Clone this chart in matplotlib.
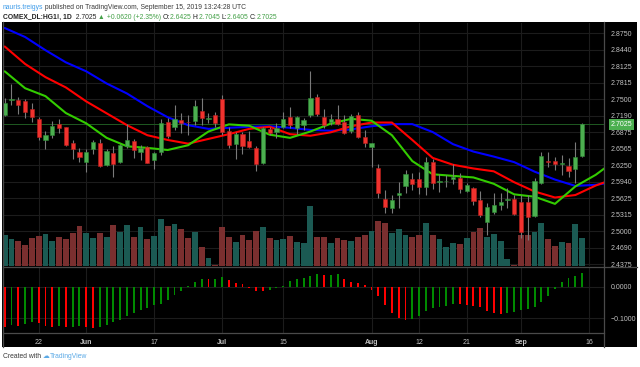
import matplotlib
matplotlib.use('Agg')
import matplotlib.pyplot as plt
import numpy as np
from matplotlib.lines import Line2D
from matplotlib.patches import Rectangle

plt.rcParams['font.family'] = ['Liberation Sans', 'DejaVu Sans']

# ---------------- data ----------------
date_tick_idx = [5, 12, 22, 32, 41, 54, 61, 68, 76, 86]
date_labels = ['22', 'Jun', '17', 'Jul', '15', 'Aug', '12', '21', 'Sep', '16']
month_labels = {'Jun', 'Jul', 'Aug', 'Sep'}

price_ticks = [2.8750, 2.8440, 2.8125, 2.7815, 2.7500, 2.7190, 2.6875, 2.6565,
               2.6250, 2.5940, 2.5625, 2.5315, 2.5000, 2.4690, 2.4375]
osc_ticks = [0.0, -0.1]

opens = [2.7196, 2.7491, 2.7486, 2.7461, 2.7310, 2.7120, 2.6729, 2.6824, 2.7026, 2.6969,
         2.6666, 2.6495, 2.6306, 2.6565, 2.6678, 2.6262, 2.6476, 2.6306, 2.6622, 2.6704,
         2.6508, 2.6590, 2.6350, 2.6508, 2.7070, 2.6975, 2.7108, 2.7076, 2.7095, 2.7284,
         2.7127, 2.7196, 2.7505, 2.6893, 2.6647, 2.6843, 2.6710, 2.6584, 2.6287, 2.6931,
         2.6887, 2.6981, 2.7158, 2.6950, 2.7013, 2.7202, 2.7537, 2.7158, 2.7076, 2.7120,
         2.7070, 2.6906, 2.7196, 2.6780, 2.6603, 2.6205, 2.5611, 2.5447, 2.5681, 2.5858,
         2.5984, 2.5990, 2.5832, 2.6306, 2.5927, 2.5946, 2.5984, 2.6003, 2.5770, 2.5820,
         2.5593, 2.5169, 2.5371, 2.5504, 2.5586, 2.5605, 2.5561, 2.5561, 2.5290, 2.5908,
         2.6331, 2.6325, 2.6274, 2.6236, 2.6186, 2.6425]
highs = [2.7518, 2.7790, 2.7537, 2.7499, 2.7436, 2.7170, 2.6906, 2.7095, 2.7120, 2.6981,
         2.6729, 2.6571, 2.6552, 2.6729, 2.6741, 2.6552, 2.6615, 2.6653, 2.7026, 2.6741,
         2.6628, 2.6615, 2.6508, 2.7120, 2.7139, 2.7392, 2.7247, 2.7202, 2.7486, 2.7518,
         2.7234, 2.7265, 2.7581, 2.6969, 2.6887, 2.6887, 2.6900, 2.6615, 2.6981, 2.6981,
         2.7045, 2.7266, 2.7360, 2.7183, 2.7139, 2.8036, 2.7600, 2.7310, 2.7215, 2.7392,
         2.7202, 2.7221, 2.7265, 2.6918, 2.6678, 2.6274, 2.5782, 2.5687, 2.5940, 2.6161,
         2.6110, 2.6129, 2.6413, 2.6363, 2.6085, 2.6066, 2.6274, 2.6098, 2.5921, 2.5845,
         2.5763, 2.5530, 2.5719, 2.5719, 2.5826, 2.5687, 2.5687, 2.5687, 2.6003, 2.6508,
         2.6508, 2.6413, 2.6451, 2.6394, 2.6697, 2.7045]
lows = [2.7190, 2.7392, 2.7221, 2.7139, 2.7076, 2.6729, 2.6558, 2.6760, 2.6868, 2.6615,
        2.6375, 2.6318, 2.6116, 2.6457, 2.6211, 2.6236, 2.6022, 2.6287, 2.6571, 2.6382,
        2.6350, 2.6287, 2.6173, 2.6445, 2.6760, 2.6918, 2.6868, 2.6824, 2.7013, 2.7013,
        2.7045, 2.6981, 2.6824, 2.6571, 2.6375, 2.6457, 2.6571, 2.6142, 2.6274, 2.6824,
        2.6760, 2.6950, 2.6950, 2.6843, 2.6918, 2.7170, 2.7183, 2.6950, 2.7013, 2.7013,
        2.6843, 2.6855, 2.6760, 2.6590, 2.6211, 2.5624, 2.5340, 2.5340, 2.5447, 2.5731,
        2.5782, 2.5700, 2.5687, 2.5795, 2.5750, 2.5845, 2.5896, 2.5719, 2.5750, 2.5492,
        2.5277, 2.4930, 2.5327, 2.5403, 2.5435, 2.5308, 2.4880, 2.4835, 2.5277, 2.5896,
        2.6211, 2.6161, 2.6066, 2.6034, 2.5921, 2.6405]
closes = [2.7436, 2.7500, 2.7392, 2.7259, 2.7158, 2.6792, 2.6824, 2.7000, 2.6962, 2.6641,
          2.6552, 2.6407, 2.6508, 2.6697, 2.6236, 2.6520, 2.6280, 2.6628, 2.6729, 2.6539,
          2.6577, 2.6300, 2.6476, 2.7045, 2.6805, 2.7133, 2.7045, 2.7063, 2.7373, 2.7139,
          2.7139, 2.7057, 2.6887, 2.6634, 2.6843, 2.6615, 2.6590, 2.6268, 2.6950, 2.6868,
          2.6956, 2.7120, 2.7007, 2.7164, 2.7108, 2.7531, 2.7215, 2.7007, 2.7127, 2.7032,
          2.6855, 2.7183, 2.6792, 2.6666, 2.6666, 2.5719, 2.5454, 2.5593, 2.5731, 2.6085,
          2.5896, 2.5845, 2.6319, 2.5921, 2.5959, 2.5959, 2.6034, 2.5795, 2.5877, 2.5580,
          2.5302, 2.5454, 2.5492, 2.5555, 2.5611, 2.5327, 2.4993, 2.5277, 2.5959, 2.6432,
          2.6306, 2.6274, 2.6287, 2.6148, 2.6413, 2.7025]
volume_k = [31, 27, 25, 21, 28, 30, 32, 25, 29, 27,
            33, 40, 33, 28, 33, 29, 41, 34, 41, 29,
            39, 27, 30, 47, 40, 42, 37, 28, 34, 19,
            8, 1.5, 39, 29, 24, 31, 26, 35, 39, 28,
            26, 27, 30, 24, 23, 60, 29, 29, 23, 28,
            26, 25, 29, 31, 35, 45, 43, 33, 37, 31,
            29, 31, 43, 31, 27, 19, 23, 22, 28, 34,
            38, 29, 32, 25, 7, 1.5, 31, 31, 34, 43,
            27, 20, 24, 23, 42, 28]
awesome_osc = [-0.128, -0.122, -0.124, -0.117, -0.113, -0.115, -0.124, -0.128, -0.126, -0.128,
               -0.127, -0.126, -0.128, -0.130, -0.128, -0.120, -0.112, -0.104, -0.092, -0.083,
               -0.074, -0.067, -0.059, -0.053, -0.042, -0.025, -0.012, 0.003, 0.016, 0.025,
               0.024, 0.026, 0.031, 0.023, 0.014, 0.008, -0.002, -0.012, -0.013, -0.008,
               -0.002, 0.002, 0.019, 0.026, 0.028, 0.035, 0.040, 0.038, 0.039, 0.041,
               0.025, 0.016, 0.014, 0.006, -0.010, -0.029, -0.056, -0.083, -0.098, -0.106,
               -0.101, -0.092, -0.077, -0.067, -0.063, -0.061, -0.054, -0.055, -0.058, -0.060,
               -0.065, -0.077, -0.083, -0.085, -0.082, -0.080, -0.072, -0.070, -0.063, -0.049,
               -0.028, -0.005, 0.015, 0.030, 0.035, 0.044]

# Alligator lines (read every 3 bars, shifted lines run past the last bar)
ma_idx = [0, 3, 6, 9, 12, 15, 18, 21, 24, 27, 30, 33, 36, 39, 42, 45, 48, 51, 54, 57,
          60, 63, 66, 69, 72, 75, 78, 81, 84, 87, 89]
jaw_blue = [2.885, 2.868, 2.843, 2.820, 2.803, 2.780, 2.761, 2.737, 2.716, 2.701,
            2.694, 2.696, 2.698, 2.699, 2.696, 2.692, 2.6905, 2.693, 2.699, 2.703,
            2.703, 2.688, 2.665, 2.651, 2.6415, 2.631, 2.613, 2.598, 2.586, 2.588, 2.592]
teeth_red = [2.850, 2.817, 2.792, 2.7725, 2.746, 2.7235, 2.701, 2.682, 2.673, 2.666,
             2.675, 2.684, 2.694, 2.698, 2.684, 2.681, 2.6875, 2.699, 2.706, 2.706,
             2.673, 2.639, 2.626, 2.619, 2.6136, 2.593, 2.5754, 2.564, 2.5687, 2.5867, 2.596]
lips_green = [2.803, 2.771, 2.756, 2.724, 2.7045, 2.677, 2.661, 2.658, 2.654, 2.663,
              2.689, 2.7025, 2.700, 2.683, 2.677, 2.689, 2.704, 2.713, 2.7095, 2.682,
              2.633, 2.608, 2.605, 2.602, 2.590, 2.570, 2.5655, 2.552, 2.585, 2.607, 2.626]

# ---------------- layout helpers ----------------
W, H = 640, 367
def fbox(x0, y0, x1, y1):
    return [x0 / W, 1 - y1 / H, (x1 - x0) / W, (y1 - y0) / H]

fig = plt.figure(figsize=(6.4, 3.67), dpi=100, facecolor='white')
fig.patches.append(Rectangle((2 / W, 1 - 347 / H), 635 / W, 325 / H,
                             transform=fig.transFigure, facecolor='black',
                             edgecolor='none', zorder=0))

n = len(closes)
x = np.arange(n)
XLIM = (-0.25, 88.22)
PLIM = (2.4343, 2.8945)
grid_c = '#1c1c1c'
lab_c = '#c2c2c2'
FS = 5

# background (grid) axes for price pane
ax_bg = fig.add_axes(fbox(3, 23, 604, 266), zorder=1)
ax_bg.set_facecolor('black')
ax_bg.set_xlim(*XLIM); ax_bg.set_ylim(*PLIM)
for p in price_ticks:
    ax_bg.axhline(p, color=grid_c, lw=0.8, zorder=0)
for d in date_tick_idx:
    ax_bg.axvline(d, color=grid_c, lw=0.8, zorder=0)
ax_bg.set_xticks([]); ax_bg.set_yticks([])
for s in ax_bg.spines.values():
    s.set_visible(False)

# volume axes
ax_v = fig.add_axes(fbox(3, 23, 604, 266), zorder=2)
ax_v.patch.set_alpha(0)
ax_v.set_xlim(*XLIM); ax_v.set_ylim(0, 243)
up = np.array(closes) >= np.array(opens)
ax_v.bar(x, volume_k, width=0.86, color=np.where(up, '#1b5a53', '#7a2f2f'), linewidth=0)
ax_v.axis('off')

# price axes
ax = fig.add_axes(fbox(3, 23, 604, 266), zorder=3)
ax.patch.set_alpha(0)
ax.set_xlim(*XLIM); ax.set_ylim(*PLIM)
ax.axhline(closes[-1], color='#1f5a22', lw=0.7, zorder=1)
ax.plot(ma_idx, jaw_blue, color='#0000ff', lw=1.5, zorder=2, solid_capstyle='round')
ax.plot(ma_idx, teeth_red, color='#ff0000', lw=1.5, zorder=2, solid_capstyle='round')
ax.plot(ma_idx, lips_green, color='#33cc00', lw=1.5, zorder=2, solid_capstyle='round')
o = np.array(opens); c = np.array(closes)
ax.vlines(x, lows, highs, color='#7a7a7a', lw=0.8, zorder=3)
body = np.where(np.abs(c - o) < 0.0012, 0.0012 * np.sign(c - o + 1e-9), c - o)
ax.bar(x, body, bottom=o, width=0.62, color=np.where(up, '#4caf50', '#f0322e'),
       edgecolor=np.where(up, '#2e8b34', '#b81f1c'), linewidth=0.4, zorder=4)
ax.yaxis.tick_right()
ax.set_yticks(price_ticks)
ax.set_yticklabels([f'{p:.4f}' for p in price_ticks])
ax.tick_params(axis='y', length=0, pad=5, labelsize=FS, labelcolor=lab_c)
ax.set_xticks([])
for s in ax.spines.values():
    s.set_visible(False)
# last price label
ax.annotate(f'{closes[-1]:.4f}', xy=(1, closes[-1]), xycoords=('axes fraction', 'data'),
            xytext=(5, 0), textcoords='offset points', va='center', ha='left',
            fontsize=FS, color='white', annotation_clip=False,
            bbox=dict(boxstyle='square,pad=0.25', fc='#4caf50', ec='none'), zorder=10)

# oscillator axes
ax_o = fig.add_axes(fbox(3, 267, 604, 333), zorder=1)
ax_o.set_facecolor('black')
ax_o.set_xlim(*XLIM); ax_o.set_ylim(-0.147, 0.0639)
ao = np.array(awesome_osc)
rising = np.r_[False, np.diff(ao) > 0]
for t in osc_ticks:
    ax_o.axhline(t, color=grid_c, lw=0.8, zorder=0)
for d in date_tick_idx:
    ax_o.axvline(d, color=grid_c, lw=0.8, zorder=0)
ax_o.bar(x, ao, width=0.28, color=np.where(rising, '#008a00', '#ff0000'), linewidth=0, zorder=2)
ax_o.yaxis.tick_right()
ax_o.set_yticks(osc_ticks)
ax_o.set_yticklabels(['0.0000', '\u22120.1000'])
ax_o.tick_params(axis='y', length=0, pad=5, labelsize=FS, labelcolor=lab_c)
ax_o.set_xticks(date_tick_idx)
ax_o.set_xticklabels(date_labels)
ax_o.tick_params(axis='x', length=0, pad=4, labelsize=FS, labelcolor=lab_c)
for lbl in ax_o.get_xticklabels():
    if lbl.get_text() in month_labels:
        lbl.set_fontweight('bold')
for s in ax_o.spines.values():
    s.set_visible(False)

# separators
sep_c = '#4a4a4a'
def fline(x0, y0, x1, y1):
    fig.add_artist(Line2D([x0 / W, x1 / W], [1 - y0 / H, 1 - y1 / H],
                          transform=fig.transFigure, color=sep_c, lw=0.9, zorder=20))
fline(604, 22, 604, 347)
fline(3, 266.5, 637, 266.5)
fline(3, 333, 604, 333)
fline(3, 22, 3, 347)

# header & footer text
r = fig.canvas.get_renderer()
def seq_text(y, x0, segs, size):
    xx = x0
    for s, col, wt in segs:
        t = fig.text(xx / W, 1 - y / H, s, color=col, fontsize=size, fontweight=wt,
                     va='center', ha='left')
        bb = t.get_window_extent(renderer=r)
        xx = bb.x1

dark = '#3a3a3a'
grn = '#43a047'
seq_text(7.5, 3, [('nauris.treigys', '#3d9be9', 'normal'),
                  (' published on TradingView.com, September 15, 2019 13:24:28 UTC', dark, 'normal')], 4.9)
seq_text(17.5, 3, [('COMEX_DL:HG1!, 1D', '#222222', 'bold'),
                   ('  2.7025 ', '#222222', 'normal'),
                   ('\u25b2', grn, 'normal'),
                   (' +0.0620 (+2.35%) ', grn, 'normal'),
                   ('O:', '#222222', 'normal'), ('2.6425 ', grn, 'normal'),
                   ('H:', '#222222', 'normal'), ('2.7045 ', grn, 'normal'),
                   ('L:', '#222222', 'normal'), ('2.6405 ', grn, 'normal'),
                   ('C:', '#222222', 'normal'), ('2.7025', grn, 'normal')], 4.9)
seq_text(357, 3, [('Created with ', dark, 'normal'),
                  ('\u2601', '#5aa9e6', 'normal'),
                  ('TradingView', '#5aa9e6', 'normal')], 4.9)

fig.savefig('out.png', dpi=100, facecolor='white')
